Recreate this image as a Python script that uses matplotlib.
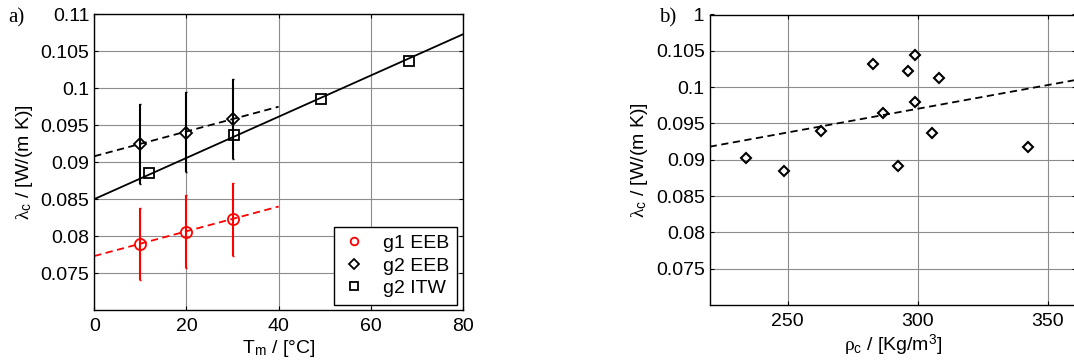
import numpy as np
import matplotlib
matplotlib.use('Agg')
import matplotlib.pyplot as plt
from matplotlib.patches import Rectangle

plt.rcParams['font.family'] = ['Liberation Sans', 'DejaVu Sans']
plt.rcParams['font.size'] = 14
plt.rcParams['mathtext.fontset'] = 'custom'
plt.rcParams['mathtext.rm'] = 'Liberation Sans'
plt.rcParams['mathtext.it'] = 'Liberation Serif'

# a) lambda vs Tm
t_eeb = [10, 20, 30]
g1_eeb = [0.0789, 0.0805, 0.0823]
g1_lo = [0.0741, 0.0757, 0.0773]
g1_hi = [0.0838, 0.0855, 0.0872]
g2_eeb = [0.0925, 0.0940, 0.0958]
g2_lo = [0.0870, 0.0886, 0.0904]
g2_hi = [0.0979, 0.0995, 0.1012]
t_itw = [11.9, 30.3, 49.2, 68.3]
g2_itw = [0.0885, 0.0937, 0.0986, 0.1037]

# linear fits (end points)
fit_g1_x = [0, 40]
fit_g1_y = [0.0773, 0.0840]
fit_g2_x = [0, 40]
fit_g2_y = [0.0908, 0.0975]
fit_itw_x = [0, 80]
fit_itw_y = [0.0850, 0.1073]

# b) lambda vs density
rho = [233.8, 248.5, 262.7, 282.8, 286.7, 292.3, 296.4, 299.0, 299.0, 305.5, 308.0, 342.3]
lam = [0.0903, 0.0884, 0.0940, 0.1032, 0.0964, 0.0891, 0.1022, 0.1044, 0.0980, 0.0937, 0.1012, 0.0918]
fit_rho_x = [220, 361]
fit_rho_y = [0.0918, 0.1010]

W, H = 1074, 364
fig = plt.figure(figsize=(W / 100, H / 100), dpi=100)
ax1 = fig.add_axes([94.3 / W, (H - 310) / H, 368.7 / W, 295.7 / H])
ax2 = fig.add_axes([709.7 / W, (H - 305) / H, 366.6 / W, 290.5 / H])

yt = np.arange(0.075, 0.1101, 0.005)
ytl = ['%g' % round(v, 3) for v in yt]


def style(ax):
    ax.grid(True, color='0.55', lw=0.8)
    ax.set_axisbelow(True)
    ax.tick_params(direction='in', top=True, right=True, length=3, width=0.8)
    ax.tick_params(axis='y', pad=3.5)
    ax.tick_params(axis='x', pad=6)
    for s in ax.spines.values():
        s.set_linewidth(1.0)
    ax.set_yticks(yt)
    ax.set_yticklabels(ytl)
    ax.set_ylim(0.07, 0.11)
    ax.set_ylabel(r'$\lambda_\mathregular{c}$ / [W/(m K)]', labelpad=4)


# panel a
yerr1 = [np.subtract(g1_eeb, g1_lo), np.subtract(g1_hi, g1_eeb)]
yerr2 = [np.subtract(g2_eeb, g2_lo), np.subtract(g2_hi, g2_eeb)]
ax1.errorbar(t_eeb, g1_eeb, yerr=yerr1, fmt='none', ecolor='red', elinewidth=1.5, capsize=1)
ax1.errorbar(t_eeb, g2_eeb, yerr=yerr2, fmt='none', ecolor='black', elinewidth=1.5, capsize=1)
ax1.plot(fit_g1_x, fit_g1_y, '--', color='red', lw=1.3, dashes=(4, 2.5))
ax1.plot(fit_g2_x, fit_g2_y, '--', color='black', lw=1.3, dashes=(4, 2.5))
ax1.plot(fit_itw_x, fit_itw_y, '-', color='black', lw=1.3)
h1, = ax1.plot(t_eeb, g1_eeb, 'o', mfc='none', mec='red', ms=8, mew=1.3, label='g1 EEB')
h2, = ax1.plot(t_eeb, g2_eeb, 'D', mfc='none', mec='black', ms=6, mew=1.3, label='g2 EEB')
h3, = ax1.plot(t_itw, g2_itw, 's', mfc='none', mec='black', ms=6.5, mew=1.3, label='g2 ITW')
ax1.set_xlim(0, 80)
ax1.set_xticks([0, 20, 40, 60, 80])
style(ax1)
ax1.set_xlabel(r'T$_\mathregular{m}$ / [°C]', labelpad=2)
leg = ax1.legend(handles=[h1, h2, h3], loc='lower right', bbox_to_anchor=(0.984, 0.017),
                 frameon=True, fancybox=False, edgecolor='black', framealpha=1,
                 handlelength=1.2, handletextpad=0.9, labelspacing=0.25, borderpad=0.4,
                 borderaxespad=0)
leg.get_frame().set_linewidth(1.0)
for lh in leg.legend_handles:
    lh.set_markersize(5.5)

# panel b
ax2.plot(fit_rho_x, fit_rho_y, '--', color='black', lw=1.3, dashes=(4, 2.5))
ax2.plot(rho, lam, 'D', mfc='none', mec='black', ms=5.5, mew=1.5)
ax2.set_xlim(220, 361)
ax2.set_xticks([250, 300, 350])
style(ax2)
ax2.set_xlabel(r'$\rho_\mathregular{c}$ / [Kg/m$^\mathregular{3}$]', labelpad=2)

# panel letters (b) sits over the top tick label, as in the original
fig.patches.append(Rectangle((655 / W, 1 - 32 / H), 38.5 / W, 30 / H, transform=fig.transFigure,
                             facecolor='white', edgecolor='none', zorder=5))
fig.text(8 / W, 1 - 18 / H, 'a)', family='Liberation Serif', fontsize=15, va='center', zorder=6)
fig.text(659 / W, 1 - 18 / H, 'b)', family='Liberation Serif', fontsize=15, va='center', zorder=6)

fig.savefig('out.png', dpi=100)
